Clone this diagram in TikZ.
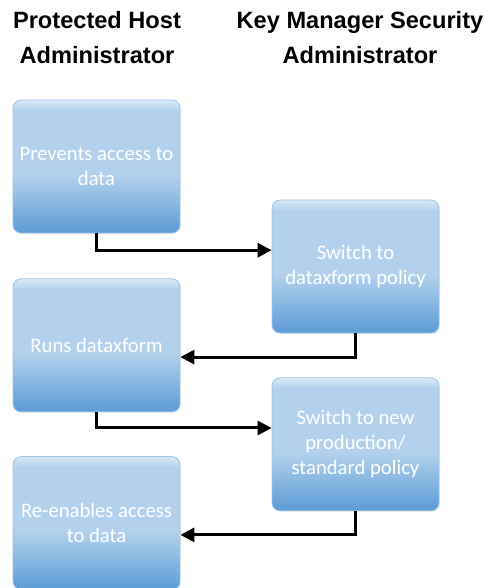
\documentclass[tikz,border=0pt]{standalone}
\usepackage{fontspec}
\setmainfont{Carlito}
\newfontfamily\headfont{Liberation Sans}
\usetikzlibrary{positioning,arrows.meta,shadows}
\definecolor{boxtop}{HTML}{D9E8F6}
\definecolor{boxmid}{HTML}{B3D1EC}
\definecolor{boxbot}{HTML}{5B9BD5}
\definecolor{boxline}{HTML}{9DC3E6}
\pgfdeclareverticalshading{stagefill}{100bp}{color(0bp)=(boxbot); color(25bp)=(boxbot);
  color(47bp)=(boxmid); color(71bp)=(boxmid); color(75bp)=(boxtop); color(100bp)=(boxtop)}
\tikzstyle{stage} = [rectangle, rounded corners=6pt, draw=boxline, line width=0.6pt,
                     shading=stagefill, minimum width=125.25pt, minimum height=99.75pt,
                     inner sep=0pt, text=white, align=center,
                     font=\fontsize{15.5}{18.75}\selectfont,
                     drop shadow={opacity=0.12, shadow xshift=0.8pt, shadow yshift=-0.8pt}]
\tikzstyle{arrow} = [line width=2.25pt, -{Triangle[length=10.5pt,width=10.5pt]}]

\begin{document}
\begin{tikzpicture}[
			x=0.75pt, y=-0.75pt,
			header/.style={
					font=\headfont\bfseries\fontsize{17.7}{26.25}\selectfont,
					align=center
				}
		]
		\useasboundingbox (0,0) rectangle (483,588);
		\node[header] (hostlbl) at (97,37.5) {Protected Host\\Administrator};
		\node[header] (kmlbl) at (360,37.5) {Key Manager Security\\Administrator};
		\node[stage] (prevent) at (96.5,166.5) {Prevents access to\\data};
		\node[stage] (policy) at (355.5,266.5) {Switch to\\dataxform policy};
		\node[stage, below=33.75pt of prevent] (runs) {Runs dataxform};
		\node[stage, below=33pt of policy] (newpolicy) {Switch to new\\production/\\standard policy};
		\node[stage, below=33pt of runs] (enable) {Re-enables access\\to data};
		\draw[arrow] (prevent.south) |- (policy.169);
		\draw[arrow] (policy.south) |- (runs.-8);
		\draw[arrow] (runs.south) |- (newpolicy.169);
		\draw[arrow] (newpolicy.south) |- (enable.-8);
	\end{tikzpicture}
\end{document}
